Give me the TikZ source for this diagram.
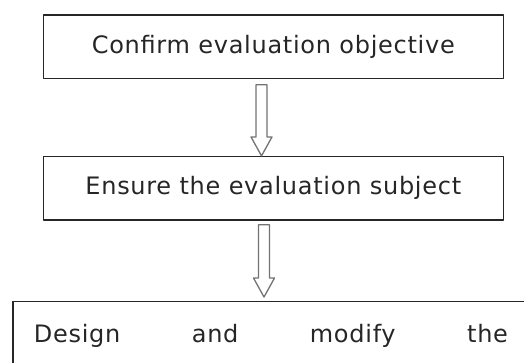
\documentclass[tikz,border=0pt]{standalone}
\usepackage{fontspec}
\setmainfont[LetterSpace=3]{DejaVu Sans}
\usetikzlibrary{calc}

\begin{document}
\begin{tikzpicture}[line cap=round,line join=round, x=1pt,y=-1pt,
  box/.style={draw=black!85, line width=1.3pt, minimum width=460pt, minimum height=63.5pt, inner sep=0pt, text=black!85, font=\fontsize{24}{29}\selectfont},
  hollow/.style={draw=black!55, line width=1.3pt, fill=white}]
\useasboundingbox (0,0) rectangle (524,362);
\clip (0,0) rectangle (524,362);
\node[box] (objective) at (273.3,46.7) {Confirm evaluation objective};
\node[box] (subject) at (273.3,188.3) {Ensure the evaluation subject};
\node[box, anchor=north west, minimum width=0pt, minimum height=0pt, text width=474pt, inner xsep=21pt, inner ysep=22.8pt, align=justify] (design) at (12.3,301) {Design\hfill and\hfill modify\hfill the};
\draw[hollow] let \p1=([xshift=-11.8pt]objective.south), \p2=([xshift=-11.8pt]subject.north) in
  (\x1-5.5pt,\y1-5.7pt) -- (\x1-5.5pt,\y2+19pt) -- (\x1-10.5pt,\y2+19pt) -- (\x1,\y2)
  -- (\x1+10.5pt,\y2+19pt) -- (\x1+5.5pt,\y2+19pt) -- (\x1+5.5pt,\y1-5.7pt) -- cycle;
\draw[hollow] let \p1=([xshift=-9.3pt]subject.south), \p2=([xshift=-9.3pt,yshift=4pt]subject.south |- design.north) in
  (\x1-5.5pt,\y1-4pt) -- (\x1-5.5pt,\y2+19pt) -- (\x1-10.5pt,\y2+19pt) -- (\x1,\y2)
  -- (\x1+10.5pt,\y2+19pt) -- (\x1+5.5pt,\y2+19pt) -- (\x1+5.5pt,\y1-4pt) -- cycle;
\end{tikzpicture}
\end{document}
